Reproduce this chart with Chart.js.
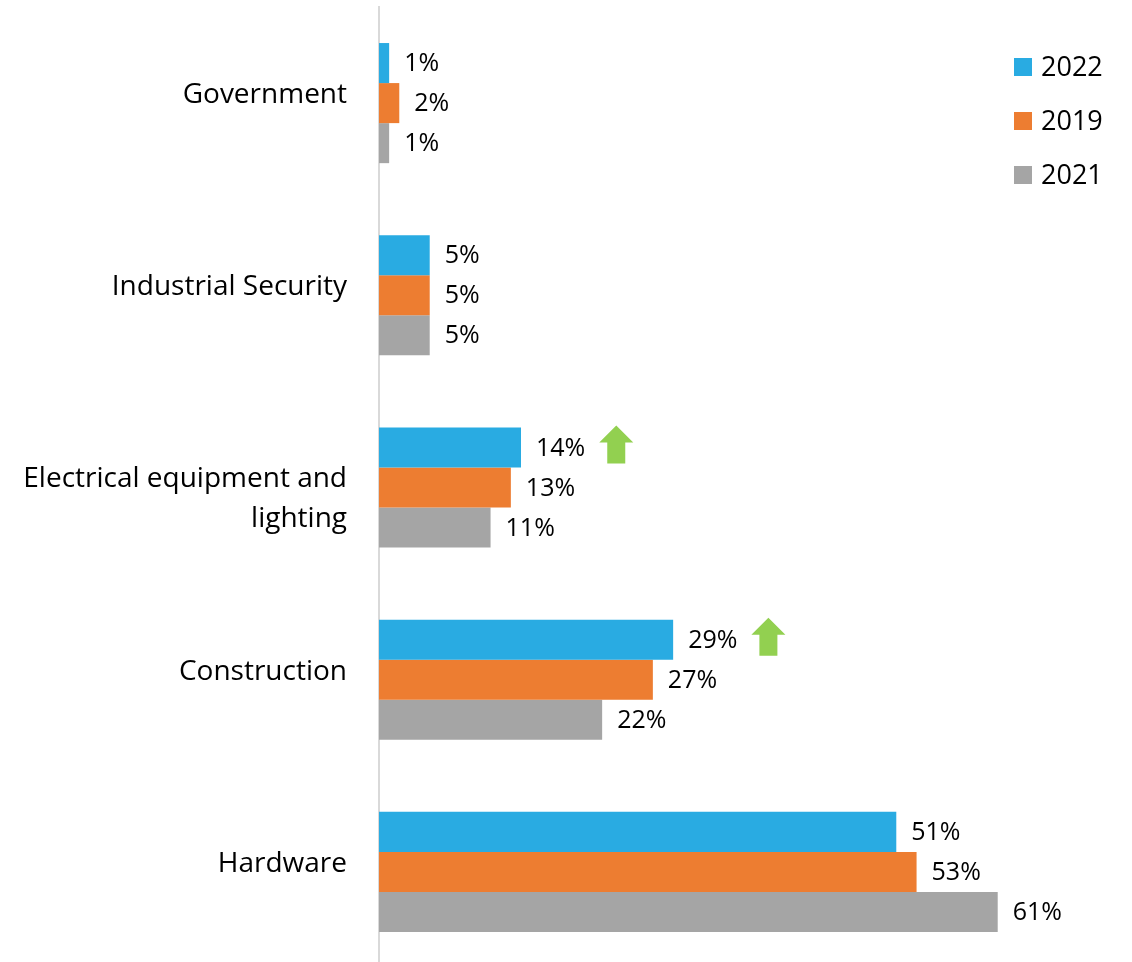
<!DOCTYPE html>
<html>
<head>
<meta charset="utf-8">
<script src="https://cdn.jsdelivr.net/npm/chart.js@4"></script>
<style>
  html, body { margin: 0; padding: 0; background: #ffffff; overflow: hidden; }
  #wrap { width: 1132px; height: 962px; overflow: hidden; }
</style>
</head>
<body>
<div id="wrap"><canvas id="chart" width="1132" height="972"></canvas></div>
<script>
// Sector shares by year (percent)
const categories = [
  'Government',
  'Industrial Security',
  ['', 'Electrical equipment and', 'lighting'],
  'Construction',
  'Hardware'
];
const seriesNames = ['2022', '2019', '2021'];
const values2022 = [1, 5, 14, 29, 51];
const values2019 = [2, 5, 13, 27, 53];
const values2021 = [1, 5, 11, 22, 61];
// Sectors where the 2022 share rose (marked with a green arrow)
const rising2022 = [false, false, true, true, false];

const colors = ['#29ABE2', '#ED7D31', '#A5A5A5'];
const FONT = '"Open Sans", "DejaVu Sans", sans-serif';

// Value labels at the end of each bar, plus green up-arrows
const barLabels = {
  id: 'barLabels',
  afterDatasetsDraw(chart) {
    const ctx = chart.ctx;
    ctx.save();
    ctx.font = '25px ' + FONT;
    ctx.fillStyle = '#000000';
    ctx.textBaseline = 'middle';
    ctx.textAlign = 'left';
    chart.data.datasets.forEach((ds, di) => {
      const meta = chart.getDatasetMeta(di);
      meta.data.forEach((bar, i) => {
        const txt = ds.data[i] + '%';
        const tx = bar.x + 15;
        ctx.fillText(txt, tx, bar.y + 1);
        if (di === 0 && rising2022[i]) {
          const w = ctx.measureText(txt).width;
          const left = tx + w + 14;
          const top = bar.y - bar.height / 2 - 2;
          const aw = 34, ah = 38, headH = 17, shaft = 18;
          const cx = left + aw / 2;
          ctx.fillStyle = '#92D050';
          ctx.beginPath();
          ctx.moveTo(cx, top);
          ctx.lineTo(left + aw, top + headH);
          ctx.lineTo(cx + shaft / 2, top + headH);
          ctx.lineTo(cx + shaft / 2, top + ah);
          ctx.lineTo(cx - shaft / 2, top + ah);
          ctx.lineTo(cx - shaft / 2, top + headH);
          ctx.lineTo(left, top + headH);
          ctx.closePath();
          ctx.fill();
          ctx.fillStyle = '#000000';
        }
      });
    });
    ctx.restore();
  }
};

// Vertical legend in the top-right corner
const sideLegend = {
  id: 'sideLegend',
  afterDraw(chart) {
    const ctx = chart.ctx;
    ctx.save();
    ctx.font = '27px ' + FONT;
    ctx.textBaseline = 'middle';
    ctx.textAlign = 'left';
    chart.data.datasets.forEach((ds, i) => {
      const cy = 67 + i * 54;
      ctx.fillStyle = ds.backgroundColor;
      ctx.fillRect(1014, cy - 9, 18, 18);
      ctx.fillStyle = '#000000';
      ctx.fillText(ds.label, 1041, cy + 1);
    });
    ctx.restore();
  }
};

const seriesValues = [values2022, values2019, values2021];

new Chart(document.getElementById('chart'), {
  type: 'bar',
  data: {
    labels: categories,
    datasets: seriesNames.map((name, i) => ({
      label: name,
      data: seriesValues[i],
      backgroundColor: colors[i],
      borderWidth: 0,
      categoryPercentage: 0.625,
      barPercentage: 1.0
    }))
  },
  options: {
    indexAxis: 'y',
    responsive: false,
    animation: false,
    layout: { padding: { top: 7, right: 43, bottom: 4, left: 0 } },
    plugins: {
      legend: { display: false },
      tooltip: { enabled: false }
    },
    scales: {
      x: {
        display: false,
        min: 0,
        max: 70
      },
      y: {
        afterFit(scale) {
          scale.width = 379;
          scale.paddingTop = 0;
          scale.paddingBottom = 0;
        },
        grid: { display: false, drawTicks: false },
        border: { display: true, color: '#D9D9D9', width: 2 },
        ticks: {
          color: '#000000',
          padding: 32,
          font: { family: FONT, size: 28, lineHeight: 1.42 },
          labelOffset: -8
        }
      }
    }
  },
  plugins: [barLabels, sideLegend]
});
</script>
</body>
</html>
